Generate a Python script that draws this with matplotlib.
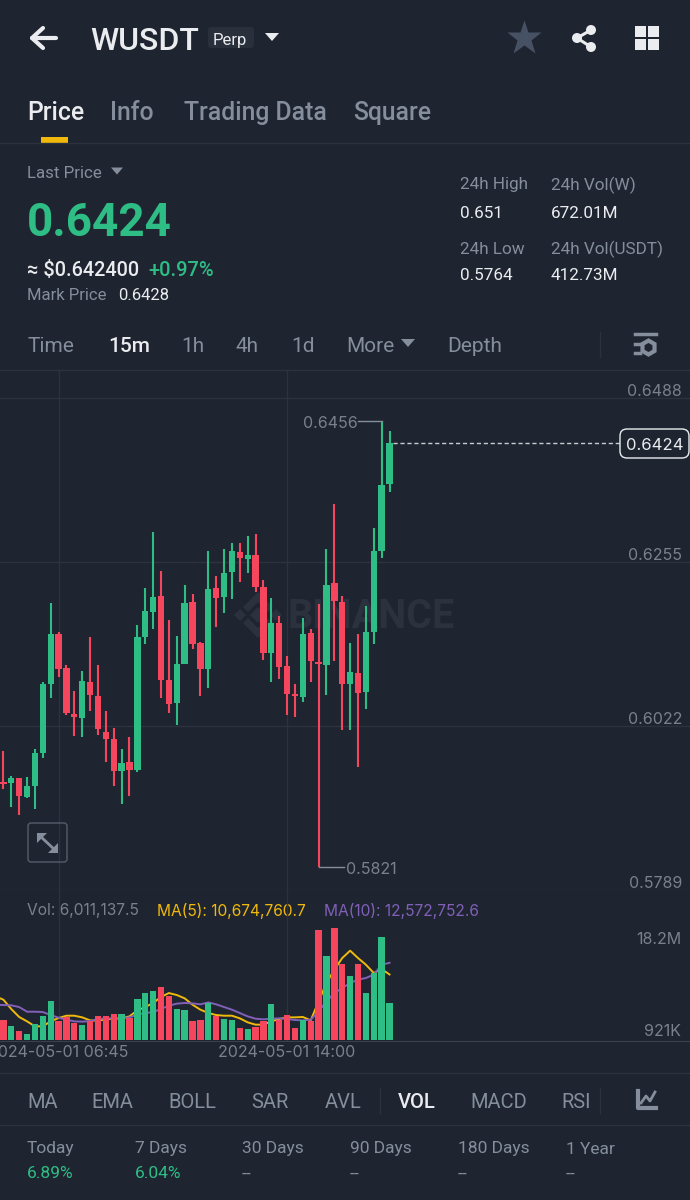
import matplotlib
matplotlib.use('Agg')
import matplotlib.pyplot as plt
from matplotlib.patches import FancyBboxPatch, Polygon, Circle, Rectangle

# candle data
opens = [.5942, .5941, .5948, .5921, .5937, .5984, .6082, .6152, .6104, .6039,
         .6034, .6085, .6065, .6014, .6004, .5958, .5971, .5959, .6149, .6184,
         .6206, .6087, .6054, .6110, .6198, .6140, .6103, .6218, .6205, .6241,
         .6269, .6259, .6265, .6219, .6126, .6168, .6107, .6067, .6063, .6154,
         .6113, .6109, .6225, .6198, .6082, .6098, .6070, .6155, .6271, .6366]
closes = [.5940, .5948, .5922, .5937, .5984, .6082, .6153, .6103, .6040, .6035,
          .6086, .6066, .6018, .6004, .5958, .5969, .5959, .6149, .6185, .6205,
          .6087, .6053, .6110, .6197, .6139, .6103, .6217, .6204, .6240, .6270,
          .6260, .6265, .6219, .6126, .6168, .6106, .6067, .6064, .6153, .6115,
          .6110, .6222, .6199, .6082, .6099, .6069, .6155, .6270, .6365, .6424]
highs = [.5986, .5951, .5948, .5949, .5989, .6084, .6197, .6156, .6109, .6072,
         .6100, .6149, .6108, .6043, .6019, .5989, .6007, .6165, .6218, .6298,
         .6242, .6173, .6150, .6222, .6210, .6142, .6270, .6235, .6274, .6282,
         .6282, .6292, .6295, .6229, .6204, .6178, .6121, .6081, .6176, .6160,
         .6195, .6273, .6338, .6207, .6140, .6152, .6192, .6304, .6456, .6441]
lows = [.5932, .5907, .5896, .5920, .5904, .5976, .6062, .6091, .6038, .6008,
        .6007, .6044, .6009, .5971, .5937, .5911, .5922, .5957, .6138, .6160,
        .6062, .6040, .6023, .6110, .6131, .6065, .6076, .6163, .6183, .6203,
        .6227, .6239, .6212, .6116, .6084, .6089, .6038, .6035, .6056, .6085,
        .5821, .6066, .6114, .6016, .6017, .5964, .6046, .6138, .6260, .6354]

# volume pane, in millions
volumes = [3.26, 2.28, 1.41, 0.92, 2.61, 3.91, 6.35, 3.04, 3.80, 2.71,
           2.50, 3.15, 3.85, 3.96, 4.29, 4.23, 3.58, 6.73, 7.65, 7.93,
           8.63, 7.17, 5.10, 4.94, 3.15, 3.26, 6.08, 3.85, 3.47, 3.31,
           1.90, 1.85, 2.12, 3.15, 5.92, 3.20, 4.13, 1.95, 3.20, 3.15,
           17.9, 13.74, 18.2, 12.32, 10.37, 12.32, 7.60, 10.86, 16.78, 6.01]
# both averages start one candle left of the visible edge
ma5 = [7.10, 6.57, 5.05, 3.75, 3.04, 2.23, 2.23, 3.04, 3.58, 3.96, 3.96,
       3.69, 3.20, 3.15, 3.37, 3.47, 3.53, 3.85, 4.83, 5.37, 6.03,
       7.00, 7.65, 7.33, 6.79, 5.75, 4.94, 4.40, 4.07, 3.96, 3.96,
       3.53, 2.88, 2.50, 2.50, 3.04, 3.42, 3.69, 3.69, 3.75, 3.20,
       6.30, 9.28, 11.45, 13.35, 14.55, 13.35, 12.27, 10.91, 11.56, 10.67]
ma10 = [5.72, 5.70, 5.65, 5.37, 4.61, 4.61, 4.56, 4.07, 3.64, 3.31, 3.04,
        2.99, 3.09, 3.42, 3.53, 3.53, 3.53, 3.69, 4.13, 4.40, 4.56,
        5.05, 5.59, 5.92, 6.03, 5.97, 5.81, 6.13, 5.81, 5.37, 4.94,
        4.40, 3.85, 3.47, 3.37, 3.47, 3.53, 3.42, 3.26, 3.20, 3.31,
        4.67, 6.30, 7.65, 8.47, 9.28, 9.83, 10.10, 10.64, 12.27, 12.57]

price_ticks = [0.6488, 0.6255, 0.6022, 0.5789]
date_ticks = [7, 36]
date_labels = ['2024-05-01 06:45', '2024-05-01 14:00']

BG = '#1f2530'
GRID = '#2d333e'
GREEN = '#2ebd85'
RED = '#f6465d'
GRAY = '#848e9c'
AXIS = '#7a818d'
WHITE = '#eaecef'
YELLOW = '#f0b90b'
PURPLE = '#8060b8'
MARK = '#2c323d'

plt.rcParams['font.family'] = ['Roboto', 'DejaVu Sans']

fig = plt.figure(figsize=(6.9, 12), dpi=100, facecolor=BG)

# full page axes in pixels for the app chrome
ui = fig.add_axes([0, 0, 1, 1], zorder=0)
ui.set_xlim(0, 690)
ui.set_ylim(1200, 0)
ui.axis('off')


def label(x, y, s, color=GRAY, size=12, weight='normal', ha='left', family=None):
    ui.text(x, y + 4, s, color=color, fontsize=size, fontweight=weight, ha=ha, va='center',
            family=family if family else ['Roboto', 'DejaVu Sans'])


def tri(x, y, w=6, h=7, color=GRAY):
    ui.add_patch(Polygon([(x - w, y - h / 2), (x + w, y - h / 2), (x, y + h / 2)], color=color, lw=0))


# header
ui.plot([32, 56], [38, 38], color=WHITE, lw=3, solid_capstyle='round')
ui.plot([43, 32, 43], [28, 38, 48], color=WHITE, lw=3, solid_capstyle='round', solid_joinstyle='round')
label(90, 37, 'WUSDT', WHITE, 23, 'medium')
ui.add_patch(FancyBboxPatch((208, 27), 46, 21, boxstyle='round,pad=0,rounding_size=3', fc='#2a303b', ec='none'))
label(213, 36, 'Perp', WHITE, 12)
tri(272, 37, 7, 8, WHITE)
ui.plot([524], [38], marker='*', ms=26, color='#465163', mec='none')
for cx, cy in [(591, 30), (577, 38), (591, 47)]:
    ui.add_patch(Circle((cx, cy), 5, color=WHITE, lw=0))
ui.plot([591, 577, 591], [30, 38, 47], color=WHITE, lw=2.2)
for sx, sy in [(635, 26), (648, 26), (635, 39), (648, 39)]:
    ui.add_patch(Rectangle((sx, sy), 11, 11, color=WHITE, lw=0))

# tabs
label(27, 109, 'Price', WHITE, 17.8, 'medium')
label(110, 109, 'Info', GRAY, 17.8, 'medium')
label(184, 109, 'Trading Data', GRAY, 17.8, 'medium')
label(353, 109, 'Square', GRAY, 17.8, 'medium')
ui.add_patch(Rectangle((41, 137), 27, 6, color=YELLOW, lw=0))
ui.plot([0, 690], [143, 143], color=GRID, lw=1)

# price block
label(27, 170, 'Last Price', GRAY, 12.2)
tri(117, 171, 6, 7)
label(27, 219, '0.6424', GREEN, 33, 'bold')
label(27, 266, '≈ $0.642400', WHITE, 14.3, 'medium')
label(148, 266, '+0.97%', GREEN, 14.5, 'medium')
label(27, 292, 'Mark Price', GRAY, 12)
label(118, 292, '0.6428', WHITE, 12)
label(460, 181, '24h High', GRAY, 12.3)
label(460, 209, '0.651', WHITE, 12.3)
label(460, 245, '24h Low', GRAY, 12.3)
label(460, 272, '0.5764', WHITE, 12.3)
label(551, 181, '24h Vol(W)', GRAY, 12.3)
label(551, 209, '672.01M', WHITE, 12.3)
label(551, 245, '24h Vol(USDT)', GRAY, 12.3)
label(551, 272, '412.73M', WHITE, 12.3)

# interval row
label(28, 342, 'Time', GRAY, 15)
label(108, 342, '15m', WHITE, 15, 'medium')
label(181, 342, '1h', GRAY, 15)
label(236, 342, '4h', GRAY, 15)
label(291, 342, '1d', GRAY, 15)
label(346, 342, 'More', GRAY, 15)
tri(408, 343, 7, 8)
label(447, 342, 'Depth', GRAY, 15)
ui.plot([600, 600], [332, 357], color=GRID, lw=1)
ui.plot([635, 656], [334, 334], color=GRAY, lw=2.5)
ui.plot([635, 640], [344, 344], color=GRAY, lw=2.5)
ui.plot([635, 640], [353, 353], color=GRAY, lw=2.5)
ui.plot([648], [347], marker='h', ms=10, mfc='none', mec=GRAY, mew=3)
ui.plot([0, 690], [370, 370], color=GRID, lw=1)

# watermark under the candles, logo made of a centre diamond, side diamonds and two chevrons
ui.add_patch(Polygon([(258, 607), (266, 615), (258, 623), (250, 615)], fc=MARK, ec='none'))
ui.add_patch(Polygon([(240, 609), (246, 615), (240, 621), (234, 615)], fc=MARK, ec='none'))
ui.add_patch(Polygon([(276, 609), (282, 615), (276, 621), (270, 615)], fc=MARK, ec='none'))
ui.add_patch(Polygon([(258, 592), (273, 607), (268, 612), (258, 602), (248, 612), (243, 607)], fc=MARK, ec='none'))
ui.add_patch(Polygon([(258, 638), (273, 623), (268, 618), (258, 628), (248, 618), (243, 623)], fc=MARK, ec='none'))
label(287, 613, 'BINANCE', MARK, 28.5, 'bold')

# price pane, 164 px between the price gridlines
PX = 0.0233 / 164
price = fig.add_axes([0, (1200 - 890) / 1200, 1, (890 - 370) / 1200], zorder=1)
price.patch.set_alpha(0)
price.set_xlim(-0.43, 87.13)
price.set_ylim(0.5789, 0.6488 + 28 * PX)
price.set_xticks(date_ticks)
price.set_yticks(price_ticks)
price.tick_params(length=0, labelbottom=False, labelleft=False)
price.grid(color=GRID, lw=1)
price.set_axisbelow(True)
for s in price.spines.values():
    s.set_visible(False)

idx = list(range(len(opens)))
cols = [GREEN if c >= o else RED for o, c in zip(opens, closes)]
price.vlines(idx, lows, highs, colors=cols, lw=1.5)
price.bar(idx, [c - o for o, c in zip(opens, closes)], bottom=opens, width=0.8, color=cols, lw=0)

last = closes[-1]
price.plot([49.5, 78.2], [last, last], color='#c8ccd2', lw=1, ls=(0, (3, 2)))
price.plot([48, 45], [highs[48], highs[48]], color=GRAY, lw=1)
price.plot([40, 43.2], [lows[40], lows[40]], color=GRAY, lw=1)

for p in price_ticks:
    price.annotate(f'{p:.4f}', (1, p), xycoords=('axes fraction', 'data'), xytext=(-8, 7),
                   textcoords='offset pixels', ha='right', va='center', color=AXIS, fontsize=11.5, family='Inter')
label(303, 419, '0.6456', AXIS, 11.5, family='Inter')
label(346, 866, '0.5821', AXIS, 11.5, family='Inter')

# last price tag sits on the chart
tag = fig.add_axes([0, 0, 1, 1], zorder=3)
tag.set_xlim(0, 690)
tag.set_ylim(1200, 0)
tag.axis('off')
tag.add_patch(FancyBboxPatch((620, 429), 69, 29, boxstyle='round,pad=0,rounding_size=7', fc=BG, ec=WHITE, lw=1))
tag.text(654.5, 445, f'{last:.4f}', color=WHITE, fontsize=12, ha='center', va='center', family='Inter')

# expand button
tag.add_patch(FancyBboxPatch((28, 823), 39, 39, boxstyle='round,pad=0,rounding_size=3', fc='none', ec='#555d6b', lw=1))
tag.add_patch(Polygon([(37, 833), (47, 833), (37, 843)], color=GRAY, lw=0))
tag.add_patch(Polygon([(58, 853), (48, 853), (58, 843)], color=GRAY, lw=0))
tag.plot([39, 56], [835, 851], color=GRAY, lw=2)

# volume pane, zero sits at y=1040
vol = fig.add_axes([0, (1200 - 1041) / 1200, 1, (1041 - 890) / 1200], zorder=1)
vol.patch.set_alpha(0)
vol.set_xlim(-0.43, 87.13)
vol.set_ylim(-0.16, 24.43)
vol.set_xticks(date_ticks)
vol.set_xticklabels(date_labels, color=AXIS, fontsize=11.5, family='Inter')
vol.set_yticks([])
vol.tick_params(length=0, pad=3, axis='x')
vol.grid(axis='x', color=GRID, lw=1)
vol.set_axisbelow(True)
for s in ['top', 'left', 'right']:
    vol.spines[s].set_visible(False)
vol.spines['bottom'].set_color('#3a414d')
ma_idx = [-1] + idx
vol.plot(ma_idx, ma5, color=YELLOW, lw=1.4, zorder=2)
vol.plot(ma_idx, ma10, color=PURPLE, lw=1.4, zorder=2)
vol.bar(idx, volumes, width=0.8, color=cols, lw=0, zorder=3)

label(27, 907, 'Vol: 6,011,137.5', AXIS, 11.2, family='Inter')
label(157, 907, 'MA(5): 10,674,760.7', YELLOW, 11.2, family='Inter')
label(324, 907, 'MA(10): 12,572,752.6', PURPLE, 11.2, family='Inter')
label(681, 935, '18.2M', AXIS, 11.5, ha='right', family='Inter')
label(681, 1028, '921K', AXIS, 11.5, ha='right', family='Inter')

# indicator row
ui.plot([0, 690], [1073, 1073], color=GRID, lw=1)
ui.plot([0, 690], [1125, 1125], color=GRID, lw=1)
for x, s in [(27, 'MA'), (91, 'EMA'), (168, 'BOLL'), (251, 'SAR'), (325, 'AVL'), (470, 'MACD'), (561, 'RSI')]:
    label(x, 1099, s, GRAY, 14.5)
label(398, 1099, 'VOL', WHITE, 14.5, 'medium')
ui.plot([380, 380], [1088, 1113], color=GRID, lw=1)
ui.plot([600, 600], [1088, 1113], color=GRID, lw=1)
ui.plot([638, 638, 656], [1091, 1108, 1108], color=GRAY, lw=3)
ui.plot([641, 646, 650, 655], [1103, 1096, 1101, 1092], color=GRAY, lw=2)

# performance row
perf_names = ['Today', '7 Days', '30 Days', '90 Days', '180 Days', '1 Year']
perf_values = ['6.89%', '6.04%', '--', '--', '--', '--']
perf_x = [27, 135, 242, 350, 458, 566]
for x, n, v in zip(perf_x, perf_names, perf_values):
    label(x, 1145, n, GRAY, 12.5)
    label(x, 1170, v, GREEN if v != '--' else GRAY, 12.5)

fig.savefig('out.png', dpi=100, facecolor=BG)
